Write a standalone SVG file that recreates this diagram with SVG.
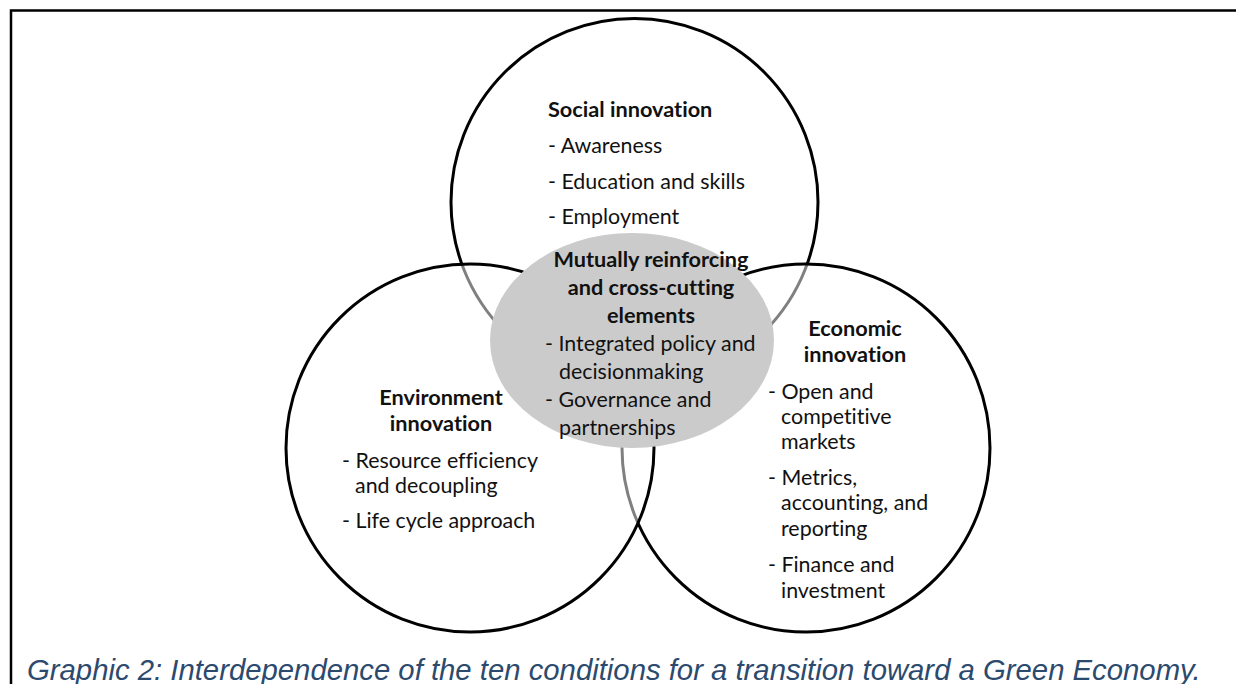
<svg xmlns="http://www.w3.org/2000/svg" width="1236" height="684" viewBox="0 0 1236 684">
<style>
.ring{fill:#ffffff;fill-opacity:0.5;stroke:#000;stroke-width:3}
.t{font-family:Lato,"Liberation Sans",sans-serif;font-size:21.4px;fill:#111;font-variant-ligatures:none}
.b{font-weight:bold;font-size:21.7px}
.m{text-anchor:middle}
.cap{font-family:"Liberation Sans",Arial,sans-serif;font-style:italic;font-size:29.3px;fill:#2C4A6E}
</style>
<rect width="1236" height="684" fill="#fff"/>
<path d="M11 684 V10.5 H1236" fill="none" stroke="#000" stroke-width="2.5"/>
<g id="social">
<circle class="ring" cx="634.5" cy="202" r="183.5"/>
<text class="t b" x="548" y="117">Social innovation</text>
<text class="t" x="548" y="153">- Awareness</text>
<text class="t" x="548" y="189">- Education and skills</text>
<text class="t" x="548" y="224">- Employment</text>
</g>
<g id="economic">
<circle class="ring" cx="806" cy="448" r="184"/>
<text class="t b m" x="855" y="336">Economic</text>
<text class="t b m" x="855" y="362">innovation</text>
<text class="t" x="768" y="399">- Open and</text>
<text class="t" x="781" y="424">competitive</text>
<text class="t" x="781" y="449">markets</text>
<text class="t" x="768" y="485">- Metrics,</text>
<text class="t" x="781" y="510">accounting, and</text>
<text class="t" x="781" y="536">reporting</text>
<text class="t" x="768" y="572">- Finance and</text>
<text class="t" x="781" y="598">investment</text>
</g>
<g id="environment">
<circle class="ring" cx="470" cy="448" r="184"/>
<text class="t b m" x="441" y="405">Environment</text>
<text class="t b m" x="441" y="431">innovation</text>
<text class="t" x="342" y="468">- Resource efficiency</text>
<text class="t" x="355" y="493">and decoupling</text>
<text class="t" x="342" y="528">- Life cycle approach</text>
</g>
<g id="crosscutting">
<ellipse cx="632" cy="340.5" rx="142" ry="107.5" fill="#cbcbcb"/>
<text class="t b m" x="651" y="267">Mutually reinforcing</text>
<text class="t b m" x="651" y="295">and cross-cutting</text>
<text class="t b m" x="651" y="323">elements</text>
<text class="t" x="545" y="351">- Integrated policy and</text>
<text class="t" x="559" y="379">decisionmaking</text>
<text class="t" x="545" y="407">- Governance and</text>
<text class="t" x="559" y="435">partnerships</text>
</g>
<g id="connectors"></g>
<text class="cap" x="27" y="680">Graphic 2: Interdependence of the ten conditions for a transition toward a Green Economy.</text>
</svg>
